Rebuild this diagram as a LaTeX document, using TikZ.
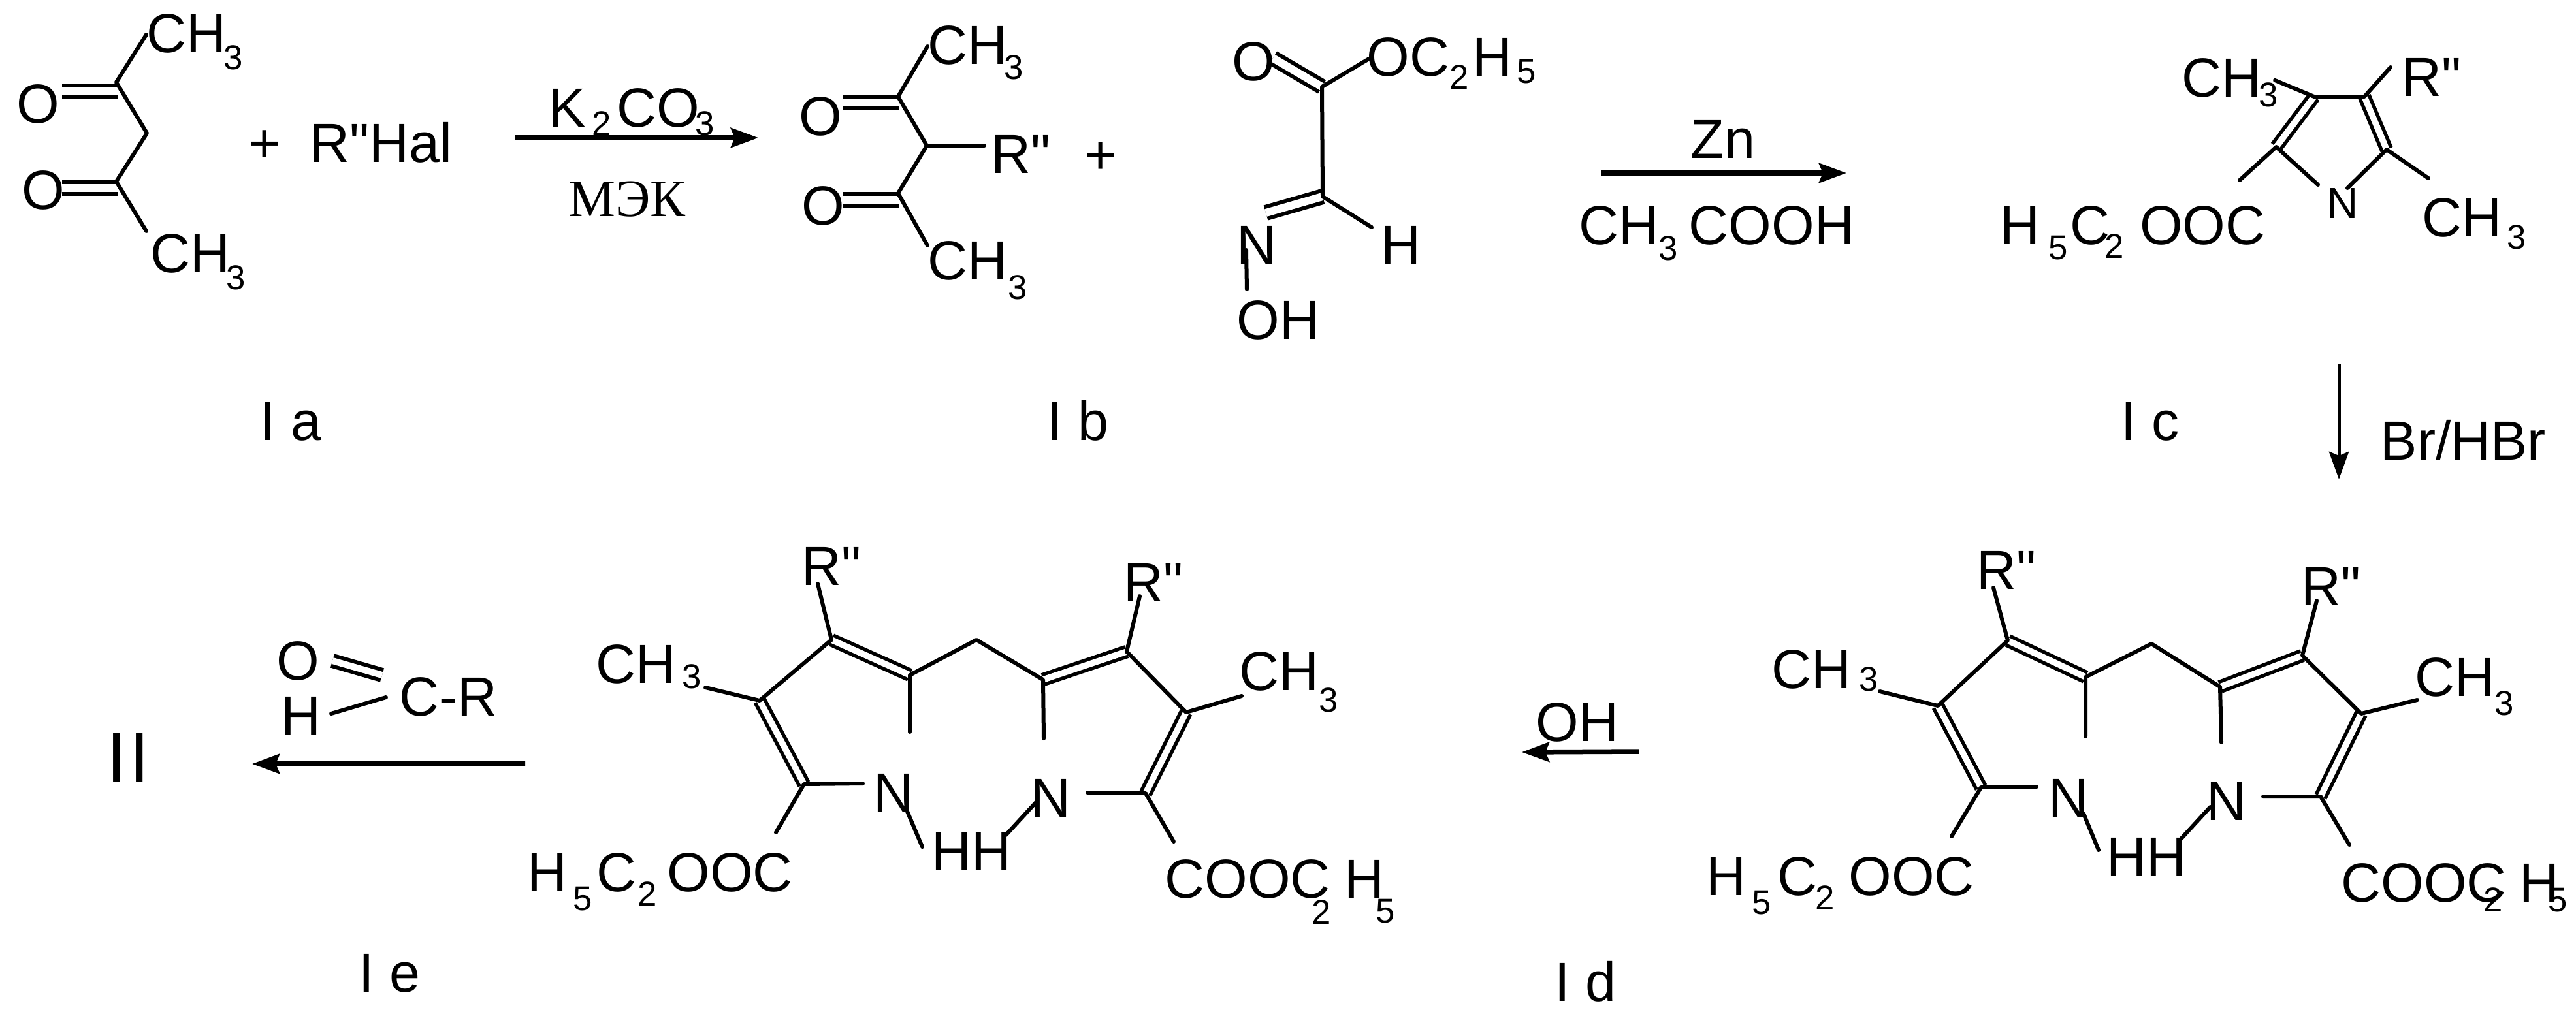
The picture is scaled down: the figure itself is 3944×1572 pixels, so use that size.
\documentclass[tikz,border=0pt]{standalone}
\usepackage{fontspec}
\setmainfont{Liberation Sans}
\newfontfamily\cyrserif{Liberation Serif}
\newfontfamily\plainfont{Liberation Sans}
\usetikzlibrary{arrows.meta}
\newcommand{\dn}[2][7.4pt]{\raisebox{-#1}{\fontsize{15}{15}\selectfont #2}}
\newcommand{\Rpp}{R{\plainfont"}}

\begin{document}
\begin{tikzpicture}[x=.01cm, y=-.01cm]
\tikzset{lbl/.style = {anchor = base west, inner sep = 0pt, font = \fontsize{24}{26}\selectfont},
  bond/.style = {line width = .06cm, line cap = round, line join = round},
  dblO/.style = {line width = .06cm, double, double distance = .12cm},
  dblC/.style = {line width = .055cm, double, double distance = .095cm},
  rxn/.style = {line width = .075cm, -{Stealth[length = .42cm, width = .3cm, inset = .06cm]}}}
\useasboundingbox (0,0) rectangle (3944,1572);

\coordinate (A1) at (224,53); \coordinate (A2) at (178,126); \coordinate (A3) at (225,204); \coordinate (A4) at (178,278); \coordinate (A5) at (224,354);
\coordinate (A6) at (95,140); \coordinate (A7) at (180,140); \coordinate (A8) at (95,288); \coordinate (A9) at (180,288);
\draw[dblO] (A6) -- (A7); \draw[dblO] (A8) -- (A9);
\draw[bond] (A1) -- (A2) -- (A3) -- (A4) -- (A5);
\node[lbl] (Oa1) at (25,188) {O}; \node[lbl] (Oa2) at (33,320) {O};
\node[lbl] (Mea1) at (224,80) {CH\kern-1.1pt\dn{3}}; \node[lbl] (Mea2) at (230,417) {CH\kern-1.7pt\dn{3}};
\node[lbl] (plus1) at (380,248) {+}; \node[lbl] (RHal) at (474,248) {\Rpp Hal};
\node[lbl] (Ia) at (398,674) {I a};

\coordinate (K1) at (788,211); \coordinate (K2) at (1161,211);
\draw[rxn] (K1) -- (K2);
\node[lbl] (base) at (840,194) {K\kern2.8pt\dn[3.7pt]{2}\kern2.3pt CO\kern-1.7pt\dn[3.7pt]{3}};
\node[lbl, font = \fontsize{23}{25}\cyrserif] (solv) at (870,331) {МЭК};

\coordinate (B1) at (1420,71); \coordinate (B2) at (1375,148); \coordinate (B3) at (1419,223); \coordinate (B4) at (1375,296); \coordinate (B5) at (1420,376); \coordinate (B6) at (1507,223);
\coordinate (B7) at (1291,157); \coordinate (B8) at (1377,157); \coordinate (B9) at (1291,306); \coordinate (B10) at (1377,306);
\draw[dblO] (B7) -- (B8); \draw[dblO] (B9) -- (B10);
\draw[bond] (B1) -- (B2) -- (B3) -- (B4) -- (B5); \draw[bond] (B3) -- (B6);
\node[lbl] (Ob1) at (1223,207) {O}; \node[lbl] (Ob2) at (1227,344) {O};
\node[lbl] (Meb1) at (1420,98) {CH\kern-1.4pt\dn[6.8pt]{3}}; \node[lbl] (Meb2) at (1420,428) {CH\kern.3pt\dn[8.8pt]{3}};
\node[lbl] (Rb) at (1517,265) {\Rpp}; \node[lbl] (plus2) at (1660,266) {+};
\node[lbl] (Ib) at (1603,674) {I b};

\coordinate (C1) at (2096,90); \coordinate (C2) at (2024,133); \coordinate (C3) at (2025,301); \coordinate (C4) at (2100,348); \coordinate (C5) at (1908,383); \coordinate (C6) at (1909,443);
\coordinate (C7) at (1949,89); \coordinate (C8) at (1938,326);
\draw[dblO] (C7) -- (C2); \draw[dblO] (C8) -- (C3);
\draw[bond] (C1) -- (C2) -- (C3) -- (C4); \draw[bond] (C5) -- (C6);
\node[lbl] (Oc1) at (1886,123) {O}; \node[lbl] (Oet) at (2092,116) {OC\dn[5.7pt]{2}\kern1.7pt H\kern2pt\dn[3.4pt]{5}};
\node[lbl] (Hc) at (2114,404) {H}; \node[lbl] (Nc) at (1893,404) {N}; \node[lbl] (OHc) at (1893,519) {OH};

\coordinate (K3) at (2451,265); \coordinate (K4) at (2827,265);
\draw[rxn] (K3) -- (K4);
\node[lbl] (Zn) at (2588,242) {Zn}; \node[lbl] (acid) at (2417,374) {CH\dn[7.1pt]{3}\kern4.8pt COOH};

\coordinate (D1) at (3483,123); \coordinate (D2) at (3543,148); \coordinate (D3) at (3620,148); \coordinate (D4) at (3660,103); \coordinate (D5) at (3485,225);
\coordinate (D6) at (3654,229); \coordinate (D7) at (3549,283); \coordinate (D8) at (3594,288); \coordinate (D9) at (3429,276); \coordinate (D10) at (3718,273);
\draw[dblC] (D2) -- (D5); \draw[dblC] (D3) -- (D6);
\draw[bond] (D1) -- (D2) -- (D3) -- (D4); \draw[bond] (D9) -- (D5) -- (D7); \draw[bond] (D8) -- (D6) -- (D10);
\node[lbl] (Med1) at (3340,148) {CH\kern-1.1pt\dn[4.5pt]{3}}; \node[lbl] (Rd) at (3677,147) {\Rpp};
\node[lbl, font = \fontsize{19}{21}\selectfont] (Nd) at (3562,334) {N};
\node[lbl] (Estd) at (3062,374) {H\kern3.7pt\dn[6.8pt]{5}\kern.9pt C\kern-2.3pt\dn[6pt]{2}\kern7pt OOC};
\node[lbl] (Med2) at (3708,362) {CH\kern2.3pt\dn[5.4pt]{3}};
\node[lbl] (Ic) at (3247,674) {I c};

\coordinate (K5) at (3581,557); \coordinate (K6) at (3581,734);
\draw[rxn, line width = .05cm] (K5) -- (K6);
\node[lbl] (brom) at (3644,704) {Br/HBr};

\coordinate (E1) at (2878,1059); \coordinate (E2) at (2967,1081); \coordinate (E3) at (3033,1206); \coordinate (E4) at (3118,1205); \coordinate (E5) at (2988,1281); \coordinate (E6) at (3074,981);
\coordinate (E7) at (3052,900); \coordinate (E8) at (3193,1037); \coordinate (E9) at (3193,1128); \coordinate (E10) at (3294,986); \coordinate (E11) at (3399,1052); \coordinate (E12) at (3401,1137);
\coordinate (E13) at (3525,1004); \coordinate (E14) at (3547,920); \coordinate (E15) at (3615,1093); \coordinate (E16) at (3701,1072); \coordinate (E17) at (3553,1220); \coordinate (E18) at (3465,1220);
\coordinate (E19) at (3597,1294); \coordinate (E20) at (3190,1246); \coordinate (E21) at (3213,1302); \coordinate (E22) at (3384,1236); \coordinate (E23) at (3339,1285);
\draw[dblC] (E2) -- (E3); \draw[dblC] (E6) -- (E8); \draw[dblC] (E11) -- (E13); \draw[dblC] (E15) -- (E17);
\draw[bond] (E1) -- (E2) -- (E6) -- (E7); \draw[bond] (E4) -- (E3) -- (E5); \draw[bond] (E9) -- (E8) -- (E10) -- (E11) -- (E12);
\draw[bond] (E14) -- (E13) -- (E15) -- (E16); \draw[bond] (E18) -- (E17) -- (E19); \draw[bond] (E20) -- (E21); \draw[bond] (E22) -- (E23);
\node[lbl] (Mee1) at (2712,1054) {CH\kern3.4pt\dn[1.4pt]{3}}; \node[lbl] (Mee2) at (3697,1066) {CH\dn[8.5pt]{3}};
\node[lbl] (Ree1) at (3026,902) {\Rpp}; \node[lbl] (Ree2) at (3523,927) {\Rpp};
\node[lbl] (Ne1) at (3136,1251) {N}; \node[lbl] (Ne2) at (3378,1256) {N}; \node[lbl] (HHe) at (3225,1341) {HH};
\node[lbl] (Este1) at (2612,1371) {H\kern2.6pt\dn[8.5pt]{5}\kern2.6pt C\kern-.9pt\dn[6.5pt]{2}\kern6.3pt OOC};
\node[lbl] (Este2) at (3584,1381) {COOC\kern-10.2pt\dn[4.3pt]{2}\kern7.4pt H\kern-4.8pt\dn[4.3pt]{5}};
\node[lbl] (Id) at (2380,1533) {I d};

\coordinate (K7) at (2509,1151); \coordinate (K8) at (2330,1152);
\draw[rxn] (K7) -- (K8);
\node[lbl] (OHe) at (2351,1135) {OH};

\coordinate (F1) at (1080,1053); \coordinate (F2) at (1163,1073); \coordinate (F3) at (1231,1201); \coordinate (F4) at (1321,1200); \coordinate (F5) at (1188,1275); \coordinate (F6) at (1273,980);
\coordinate (F7) at (1252,894); \coordinate (F8) at (1393,1034); \coordinate (F9) at (1393,1121); \coordinate (F10) at (1495,980); \coordinate (F11) at (1597,1041); \coordinate (F12) at (1598,1131);
\coordinate (F13) at (1725,998); \coordinate (F14) at (1745,913); \coordinate (F15) at (1816,1091); \coordinate (F16) at (1901,1066); \coordinate (F17) at (1754,1215); \coordinate (F18) at (1665,1214);
\coordinate (F19) at (1797,1289); \coordinate (F20) at (1387,1238); \coordinate (F21) at (1412,1297); \coordinate (F22) at (1586,1229); \coordinate (F23) at (1540,1279);
\draw[dblC] (F2) -- (F3); \draw[dblC] (F6) -- (F8); \draw[dblC] (F11) -- (F13); \draw[dblC] (F15) -- (F17);
\draw[bond] (F1) -- (F2) -- (F6) -- (F7); \draw[bond] (F4) -- (F3) -- (F5); \draw[bond] (F9) -- (F8) -- (F10) -- (F11) -- (F12);
\draw[bond] (F14) -- (F13) -- (F15) -- (F16); \draw[bond] (F18) -- (F17) -- (F19); \draw[bond] (F20) -- (F21); \draw[bond] (F22) -- (F23);
\node[lbl] (Mef1) at (912,1046) {CH\kern2.8pt\dn[2.3pt]{3}}; \node[lbl] (Mef2) at (1897,1057) {CH\dn[9.4pt]{3}};
\node[lbl] (Rf1) at (1227,896) {\Rpp}; \node[lbl] (Rf2) at (1720,921) {\Rpp};
\node[lbl] (Nf1) at (1337,1243) {N}; \node[lbl] (Nf2) at (1578,1251) {N}; \node[lbl] (HHf) at (1426,1333) {HH};
\node[lbl] (Estf1) at (807,1365) {H\kern2.6pt\dn[8.5pt]{5}\kern1.7pt C\kern.6pt\dn[6.3pt]{2}\kern4.5pt OOC};
\node[lbl] (Estf2) at (1783,1375) {COOC\kern-8pt\dn[11.4pt]{2}\kern5.7pt H\kern-3.7pt\dn[10.8pt]{5}};
\node[lbl] (Ie) at (549,1519) {I e};

\coordinate (K9) at (804,1169); \coordinate (K10) at (386,1170);
\draw[rxn] (K9) -- (K10);
\coordinate (G1) at (509,1012); \coordinate (G2) at (585,1034); \coordinate (G3) at (507,1093); \coordinate (G4) at (591,1068);
\draw[dblO, double distance = .1cm] (G1) -- (G2); \draw[bond] (G3) -- (G4);
\node[lbl] (Og) at (423,1041) {O}; \node[lbl] (Hg) at (430,1125) {H}; \node[lbl] (CR) at (611,1096) {C-R};
\node[lbl, font = \fontsize{31}{33}\selectfont] (II) at (163,1198) {I\kern1.4pt I};
\end{tikzpicture}
\end{document}
